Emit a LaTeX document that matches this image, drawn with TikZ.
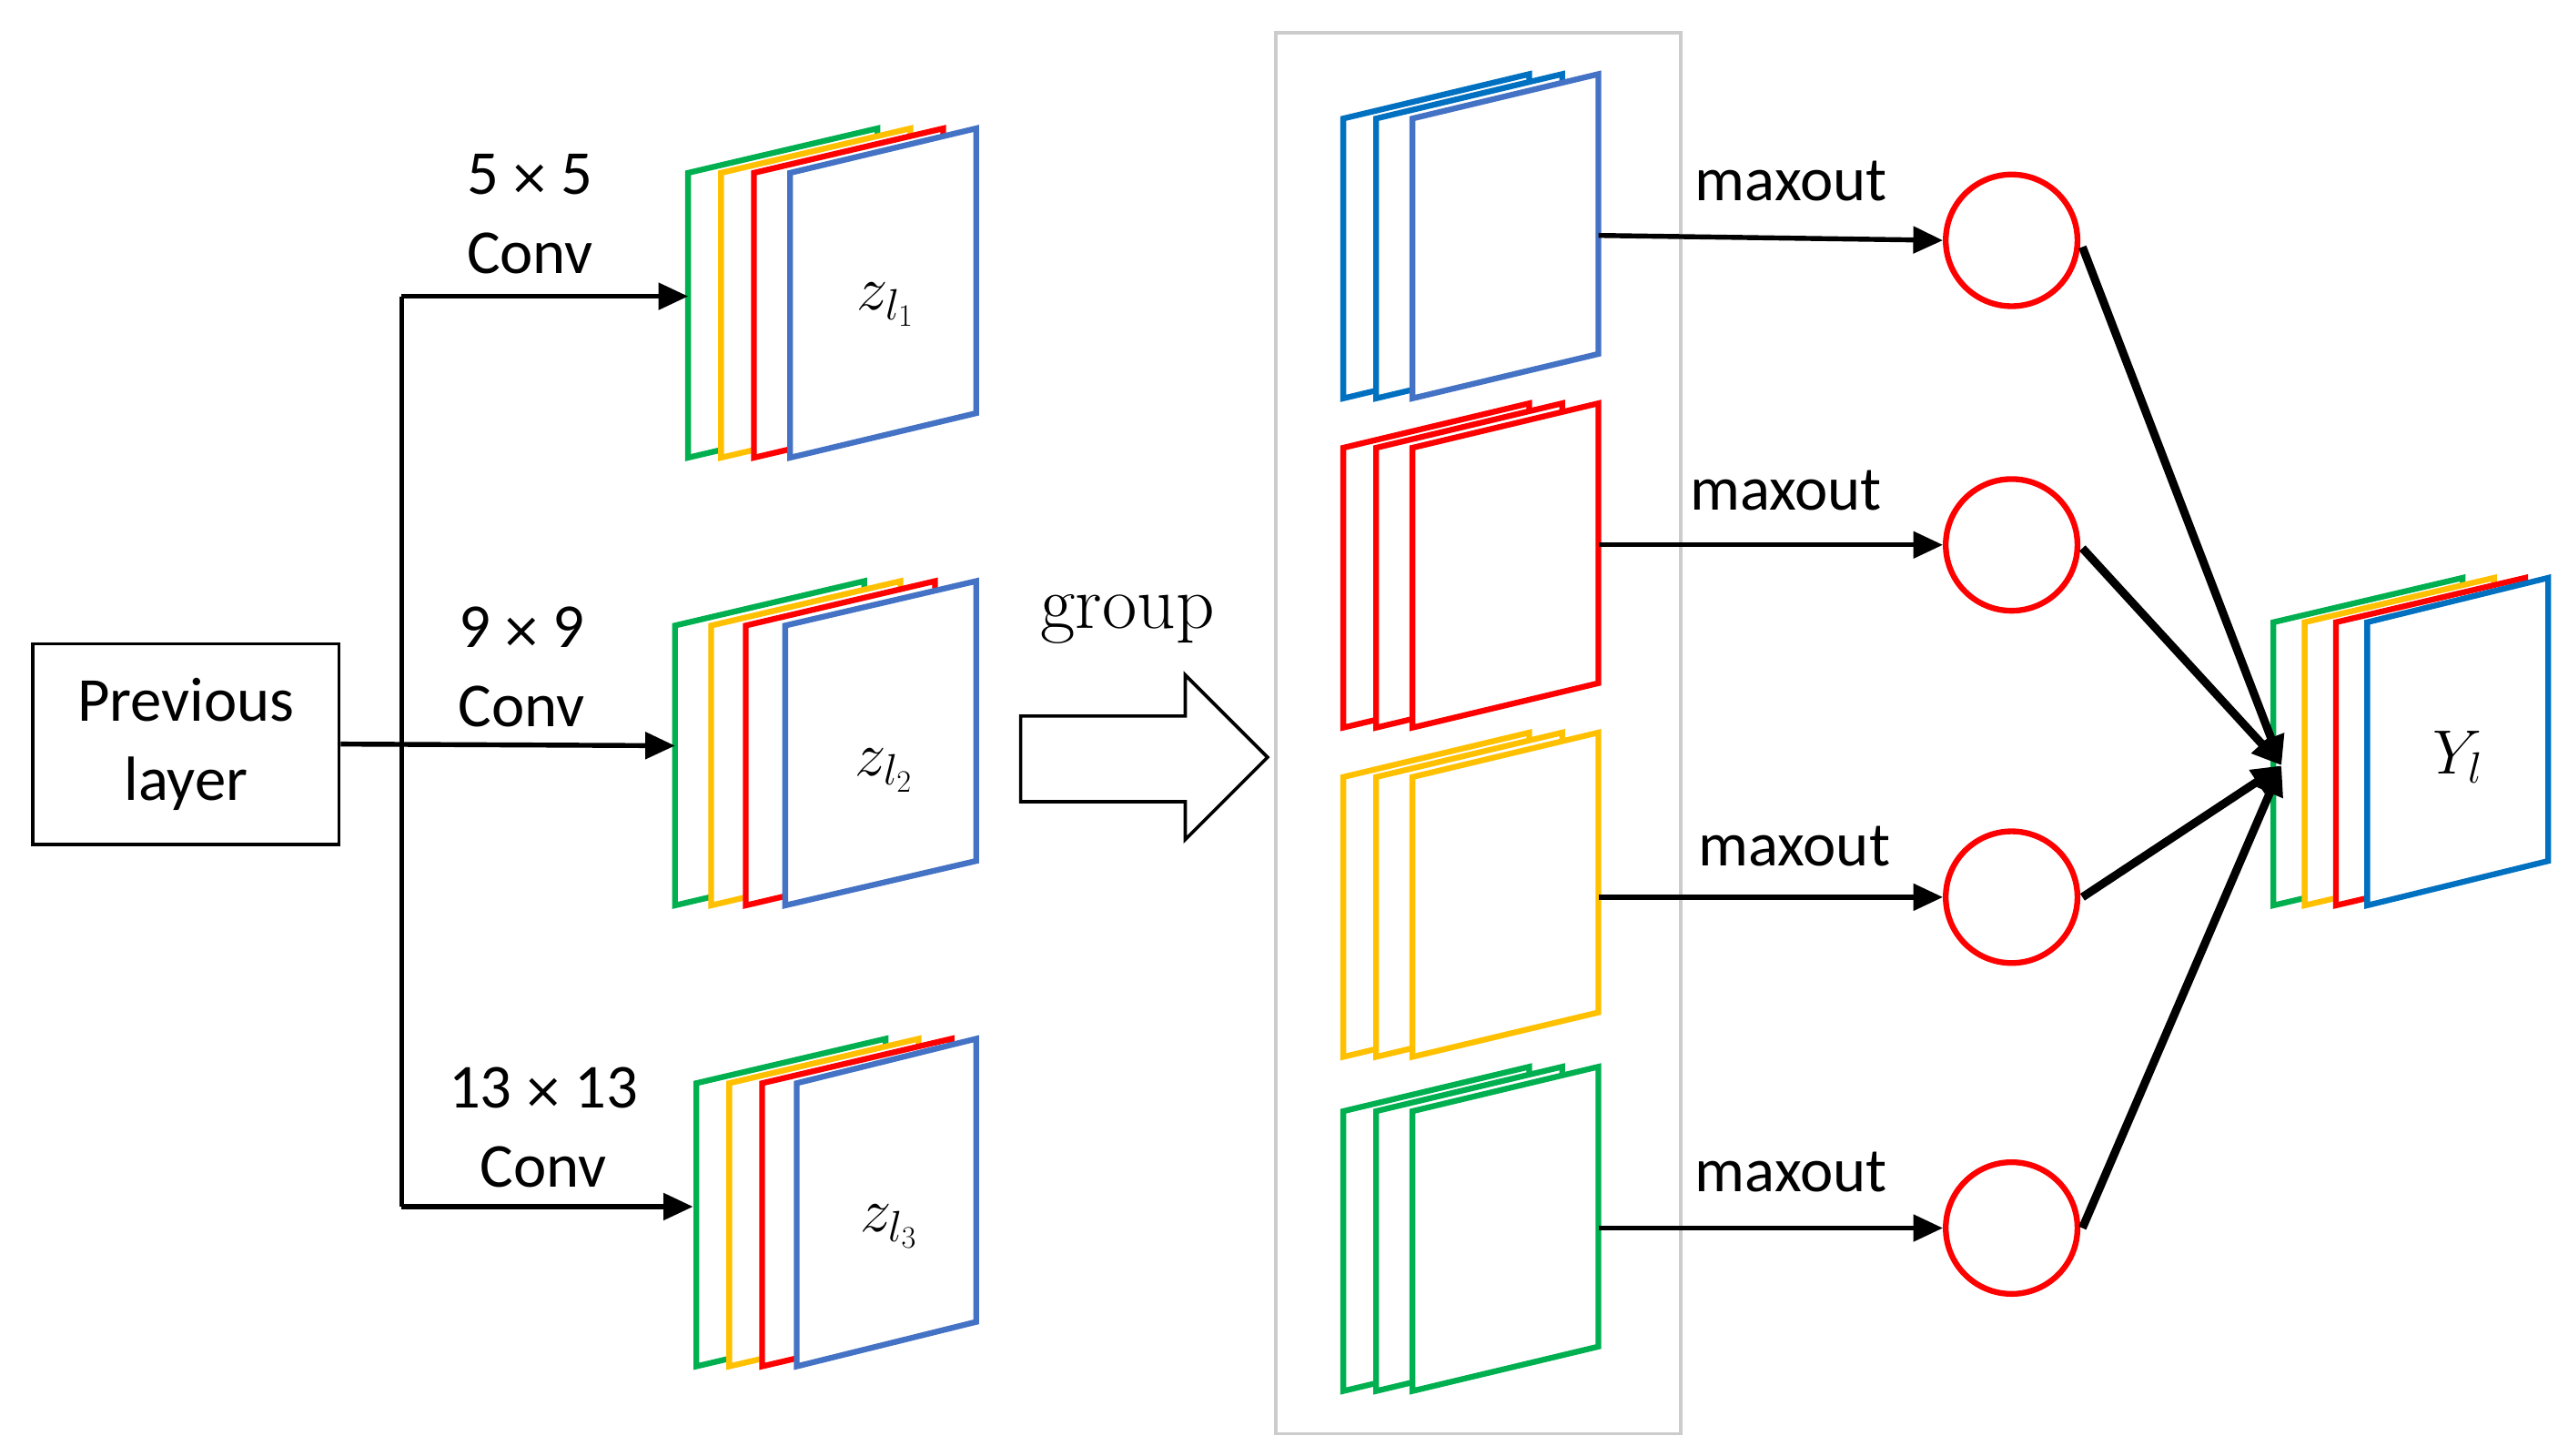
\RequirePackage{fix-cm}
\documentclass[tikz,border=0pt]{standalone}
\usepackage{fontspec}
\setmainfont{Carlito}
\usetikzlibrary{arrows.meta}
\definecolor{cg}{HTML}{00B050}
\definecolor{cy}{HTML}{FFC000}
\definecolor{cr}{HTML}{FF0000}
\definecolor{cb}{HTML}{4472C4}
\definecolor{cd}{HTML}{0070C0}
\newcommand\mysheet[6]{\draw[sheet,draw=#6] (#1,#2) -- ++(#3,-#5) -- ++(0,#4) -- ++(-#3,#5) -- cycle;}
\newcommand\bigx{\,{\fontspec{DejaVu Sans}\fontsize{30}{30}\selectfont ×}\,}
\begin{document}
\begin{tikzpicture}[x=1pt,y=-1pt,
  sheet/.style={line width=3.5pt,fill=white,line join=miter},
  arr/.style={line width=3pt,-{Triangle[length=18pt,width=16pt]}},
  thk/.style={line width=5pt,-{Triangle[length=18pt,width=16pt]}},
  lab/.style={font=\fontsize{38}{48}\selectfont,align=center},
  circ/.style={circle,draw=cr,line width=3.5pt,minimum size=80pt,inner sep=0pt}]
\useasboundingbox (0,0) rectangle (1560,884);
\node[draw,line width=2pt,minimum width=186pt,minimum height=122pt,lab,inner sep=0pt] (prev) at (113,452) {Previous\\layer};
\mysheet{418}{105}{115}{173}{27}{cg}
\mysheet{438}{105}{115}{173}{27}{cy}
\mysheet{458}{105}{115}{173}{27}{cr}
\mysheet{480}{105}{113}{173}{27}{cb}
\node[lab] (z1) at (538,185) {$z_{l_1}$};
\mysheet{410}{380}{115}{170}{27}{cg}
\mysheet{432}{380}{115}{170}{27}{cy}
\mysheet{453}{380}{115}{170}{27}{cr}
\mysheet{477}{380}{116}{170}{27}{cb}
\node[lab] (z2) at (537,468) {$z_{l_2}$};
\mysheet{423}{658}{115}{172}{27}{cg}
\mysheet{443}{658}{115}{172}{27}{cy}
\mysheet{463}{658}{115}{172}{27}{cr}
\mysheet{484}{658}{109}{172}{27}{cb}
\node[lab] (z3) at (540,745) {$z_{l_3}$};
\coordinate (t1) at (418,180); \coordinate (t2) at (410,453); \coordinate (t3) at (421,733);
\coordinate (v1) at (244,180); \coordinate (v3) at (244,733);
\draw[line width=3pt] (v1) -- (v3);
\draw[arr] (v1) -- (t1);
\draw[arr] (v3) -- (t3);
\draw[arr] (prev.east) -- (t2);
\node[lab] (c1) at (322,130) {5\bigx5\\Conv};
\node[lab] (c2) at (317,405) {9\bigx9\\Conv};
\node[lab] (c3) at (330,685) {13\bigx13\\Conv};
\node[font=\fontfamily{lmr}\fontsize{46}{48}\selectfont] (grp) at (685,376) {group};
\draw[line width=2pt,line join=miter] (620,435) -- (720,435) -- (720,410) -- (770,460) -- (720,510) -- (720,487) -- (620,487) -- cycle;
\draw[gray!40,line width=2pt] (775,20) rectangle (1021,871);
\foreach \yt/\ca/\cb/\cc in {72/cd/cd/cb, 272/cr/cr/cr, 472/cy/cy/cy, 675/cg/cg/cg}{
  \mysheet{816}{\yt}{113}{170}{27}{\ca}
  \mysheet{836}{\yt}{113}{170}{27}{\cb}
  \mysheet{858}{\yt}{113}{170}{27}{\cc}
}
\node[circ] (o1) at (1222,146) {};
\node[circ] (o2) at (1222,331) {};
\node[circ] (o3) at (1222,545) {};
\node[circ] (o4) at (1222,746) {};
\coordinate (s1) at (971,143); \coordinate (s2) at (971,331);
\coordinate (s3) at (971,545); \coordinate (s4) at (971,746);
\foreach \i in {1,2,3,4}{ \draw[arr] (s\i) -- (o\i.west); }
\node[lab] (m1) at (1088,110) {maxout};
\node[lab] (m2) at (1085,298) {maxout};
\node[lab] (m3) at (1090,514) {maxout};
\node[lab] (m4) at (1088,712) {maxout};
\mysheet{1381}{378}{115}{172}{27}{cg}
\mysheet{1400}{378}{115}{172}{27}{cy}
\mysheet{1419}{378}{115}{172}{27}{cr}
\mysheet{1438}{378}{110}{172}{27}{cd}
\node[lab] (Y) at (1493,460) {$Y_l$};
\coordinate (in) at (1386,465);
\draw[thk] (1265,150) -- (in);
\draw[thk] (1265,333) -- (in);
\draw[thk] (1265,545) -- (in);
\draw[thk] (1265,746) -- (in);
\end{tikzpicture}
\end{document}
